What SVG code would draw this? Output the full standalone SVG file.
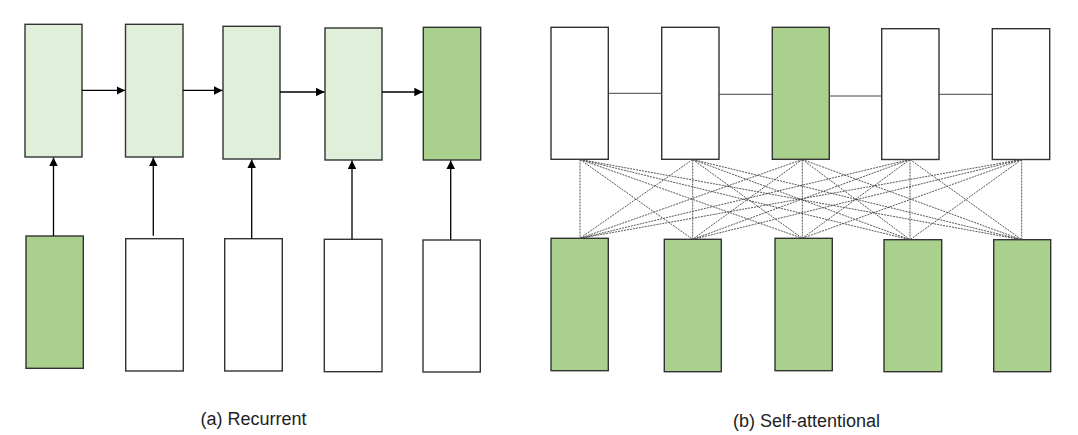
<svg xmlns="http://www.w3.org/2000/svg" width="1078" height="435" viewBox="0 0 1078 435">
<defs>
<style>
.box{stroke:#333;stroke-width:1.4}
.lt{fill:#e0efd9}
.dk{fill:#aad08e}
.wh{fill:#ffffff}
.arr{stroke:#000;stroke-width:1.3;fill:none;marker-end:url(#ah)}
.hl{stroke:#444;stroke-width:1;fill:none}
.att{stroke:#444;stroke-width:0.9;stroke-dasharray:2 1;fill:none}
.lbl{font-family:"Liberation Sans",Arial,sans-serif;font-size:18px;fill:#222;text-anchor:middle}
</style>
<marker id="ah" viewBox="0 0 10 10" refX="10" refY="5" markerWidth="8.5" markerHeight="8.5" orient="auto" markerUnits="userSpaceOnUse">
<path d="M0,0 L10,5 L0,10 z" fill="#000"/>
</marker>
</defs>
<rect width="1078" height="435" fill="#fff"/>

<!-- (a) Recurrent -->
<g id="a-h1"><rect class="box lt" x="25" y="24.3" width="57" height="132.7"/></g>
<g id="a-h2"><rect class="box lt" x="125.5" y="24.3" width="57.5" height="132.7"/></g>
<g id="a-h3"><rect class="box lt" x="223" y="26.3" width="57" height="132.7"/></g>
<g id="a-h4"><rect class="box lt" x="325" y="28" width="57" height="132"/></g>
<g id="a-h5"><rect class="box dk" x="423.3" y="27.3" width="57.4" height="132.7"/></g>

<g id="a-x1"><rect class="box dk" x="26" y="236" width="57.3" height="132.3"/></g>
<g id="a-x2"><rect class="box wh" x="125.7" y="238.7" width="57.6" height="132.3"/></g>
<g id="a-x3"><rect class="box wh" x="224.7" y="238.7" width="57.6" height="132.3"/></g>
<g id="a-x4"><rect class="box wh" x="324.3" y="239.3" width="57.7" height="132.4"/></g>
<g id="a-x5"><rect class="box wh" x="423" y="240" width="57.3" height="132"/></g>

<g id="a-connectors">
<line class="arr" x1="82" y1="90.4" x2="125" y2="90.4"/>
<line class="arr" x1="183" y1="90.4" x2="222.5" y2="90.4"/>
<line class="arr" x1="280" y1="92" x2="324.5" y2="92"/>
<line class="arr" x1="382" y1="92" x2="422.8" y2="92"/>
<line class="arr" x1="53.5" y1="236" x2="53.5" y2="157.5"/>
<line class="arr" x1="153.3" y1="235.7" x2="153.3" y2="157.5"/>
<line class="arr" x1="251.7" y1="238.7" x2="251.7" y2="159.5"/>
<line class="arr" x1="352" y1="239.3" x2="352" y2="160.5"/>
<line class="arr" x1="450.7" y1="240" x2="450.7" y2="160.5"/>
</g>
<text class="lbl" x="253.5" y="425">(a) Recurrent</text>

<!-- (b) Self-attentional -->
<g id="b-h1"><rect class="box wh" x="551" y="27.3" width="57.3" height="132"/></g>
<g id="b-h2"><rect class="box wh" x="661.7" y="27.3" width="57.3" height="132"/></g>
<g id="b-h3"><rect class="box dk" x="772.3" y="27.3" width="57" height="132"/></g>
<g id="b-h4"><rect class="box wh" x="881.7" y="28.7" width="57.3" height="130.8"/></g>
<g id="b-h5"><rect class="box wh" x="992.3" y="28.7" width="57.4" height="130.8"/></g>

<g id="b-x1"><rect class="box dk" x="551" y="238.3" width="57.3" height="132.4"/></g>
<g id="b-x2"><rect class="box dk" x="664.3" y="239.3" width="57" height="132.4"/></g>
<g id="b-x3"><rect class="box dk" x="775" y="238.3" width="57.3" height="132.4"/></g>
<g id="b-x4"><rect class="box dk" x="884" y="239.7" width="57.7" height="132"/></g>
<g id="b-x5"><rect class="box dk" x="993.7" y="239.7" width="57" height="132"/></g>

<g id="b-connectors">
<line class="hl" x1="608.3" y1="93.3" x2="661.7" y2="93.3"/>
<line class="hl" x1="719" y1="94.3" x2="772.3" y2="94.3"/>
<line class="hl" x1="829.3" y1="96" x2="881.7" y2="96"/>
<line class="hl" x1="939" y1="94.3" x2="992.3" y2="94.3"/>

<line class="att" x1="580" y1="159.5" x2="580" y2="238.3"/>
<line class="att" x1="580" y1="159.5" x2="692.7" y2="239.3"/>
<line class="att" x1="580" y1="159.5" x2="802.3" y2="238.3"/>
<line class="att" x1="580" y1="159.5" x2="910" y2="239.7"/>
<line class="att" x1="580" y1="159.5" x2="1021.7" y2="239.7"/>

<line class="att" x1="692.7" y1="159.5" x2="580" y2="238.3"/>
<line class="att" x1="692.7" y1="159.5" x2="692.7" y2="239.3"/>
<line class="att" x1="692.7" y1="159.5" x2="802.3" y2="238.3"/>
<line class="att" x1="692.7" y1="159.5" x2="910" y2="239.7"/>
<line class="att" x1="692.7" y1="159.5" x2="1021.7" y2="239.7"/>

<line class="att" x1="802.3" y1="159.5" x2="580" y2="238.3"/>
<line class="att" x1="802.3" y1="159.5" x2="692.7" y2="239.3"/>
<line class="att" x1="802.3" y1="159.5" x2="802.3" y2="238.3"/>
<line class="att" x1="802.3" y1="159.5" x2="910" y2="239.7"/>
<line class="att" x1="802.3" y1="159.5" x2="1021.7" y2="239.7"/>

<line class="att" x1="910" y1="159.5" x2="580" y2="238.3"/>
<line class="att" x1="910" y1="159.5" x2="692.7" y2="239.3"/>
<line class="att" x1="910" y1="159.5" x2="802.3" y2="238.3"/>
<line class="att" x1="910" y1="159.5" x2="910" y2="239.7"/>
<line class="att" x1="910" y1="159.5" x2="1021.7" y2="239.7"/>

<line class="att" x1="1021.7" y1="159.5" x2="580" y2="238.3"/>
<line class="att" x1="1021.7" y1="159.5" x2="692.7" y2="239.3"/>
<line class="att" x1="1021.7" y1="159.5" x2="802.3" y2="238.3"/>
<line class="att" x1="1021.7" y1="159.5" x2="910" y2="239.7"/>
<line class="att" x1="1021.7" y1="159.5" x2="1021.7" y2="239.7"/>
</g>
<text class="lbl" x="806.5" y="427">(b) Self-attentional</text>
</svg>
